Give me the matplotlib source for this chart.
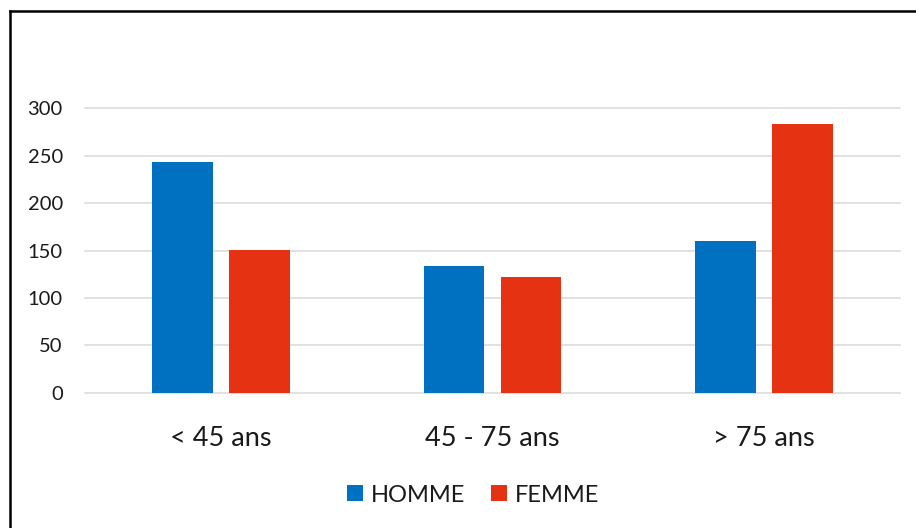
import matplotlib
matplotlib.use("Agg")
import matplotlib.pyplot as plt
import numpy as np
from matplotlib.patches import Patch
from matplotlib.lines import Line2D

categories = ["< 45 ans", "45 - 75 ans", "> 75 ans"]
series_names = ["HOMME", "FEMME"]
homme = [243, 134, 160]
femme = [151, 122, 283]
yticks = [0, 50, 100, 150, 200, 250, 300]

colors = ["#0070C0", "#E53212"]

plt.rcParams['font.family'] = ['Lato', 'DejaVu Sans']

W, H = 916, 528
fig = plt.figure(figsize=(W/100, H/100), dpi=100)

left, right = 85, 900
y0, y300 = 392.7, 108.3
ax = fig.add_axes([left/W, 1 - y0/H, (right-left)/W, (y0-y300)/H])

x = np.arange(len(categories))
bw = 0.2245
off = 0.1417
ax.bar(x - off, homme, bw, color=colors[0], zorder=3)
ax.bar(x + off, femme, bw, color=colors[1], zorder=3)

ax.set_xlim(-0.5, 2.5)
ax.set_ylim(0, 300)
ax.set_yticks(yticks)
ax.set_yticklabels([str(v) for v in yticks], fontsize=14.5, color="#1a1a1a")
ax.set_xticks(x)
ax.set_xticklabels(categories, fontsize=19.5, color="#1a1a1a")
ax.tick_params(axis='y', length=0, pad=16)
ax.tick_params(axis='x', length=0, pad=24)
for s in ax.spines.values():
    s.set_visible(False)
for v in yticks:
    ax.axhline(v, color="#D9D9D9", lw=1.1, zorder=1, clip_on=False)

handles = [Patch(facecolor=colors[0], label=series_names[0]),
           Patch(facecolor=colors[1], label=series_names[1])]
fig.legend(handles=handles, loc="center", bbox_to_anchor=(473.5/W, 1 - 495/H),
           ncol=2, frameon=False, fontsize=17, handlelength=0.66, handleheight=0.66,
           handletextpad=0.35, columnspacing=1.1, labelcolor="#1a1a1a")

# outer border (left and top visible)
fig.add_artist(Line2D([9.5/W, 9.5/W], [0, 1 - 10.5/H], transform=fig.transFigure, color="black", lw=1.8))
fig.add_artist(Line2D([9.5/W, 1], [1 - 10.5/H, 1 - 10.5/H], transform=fig.transFigure, color="black", lw=1.8))

fig.savefig("out.png", dpi=100)
